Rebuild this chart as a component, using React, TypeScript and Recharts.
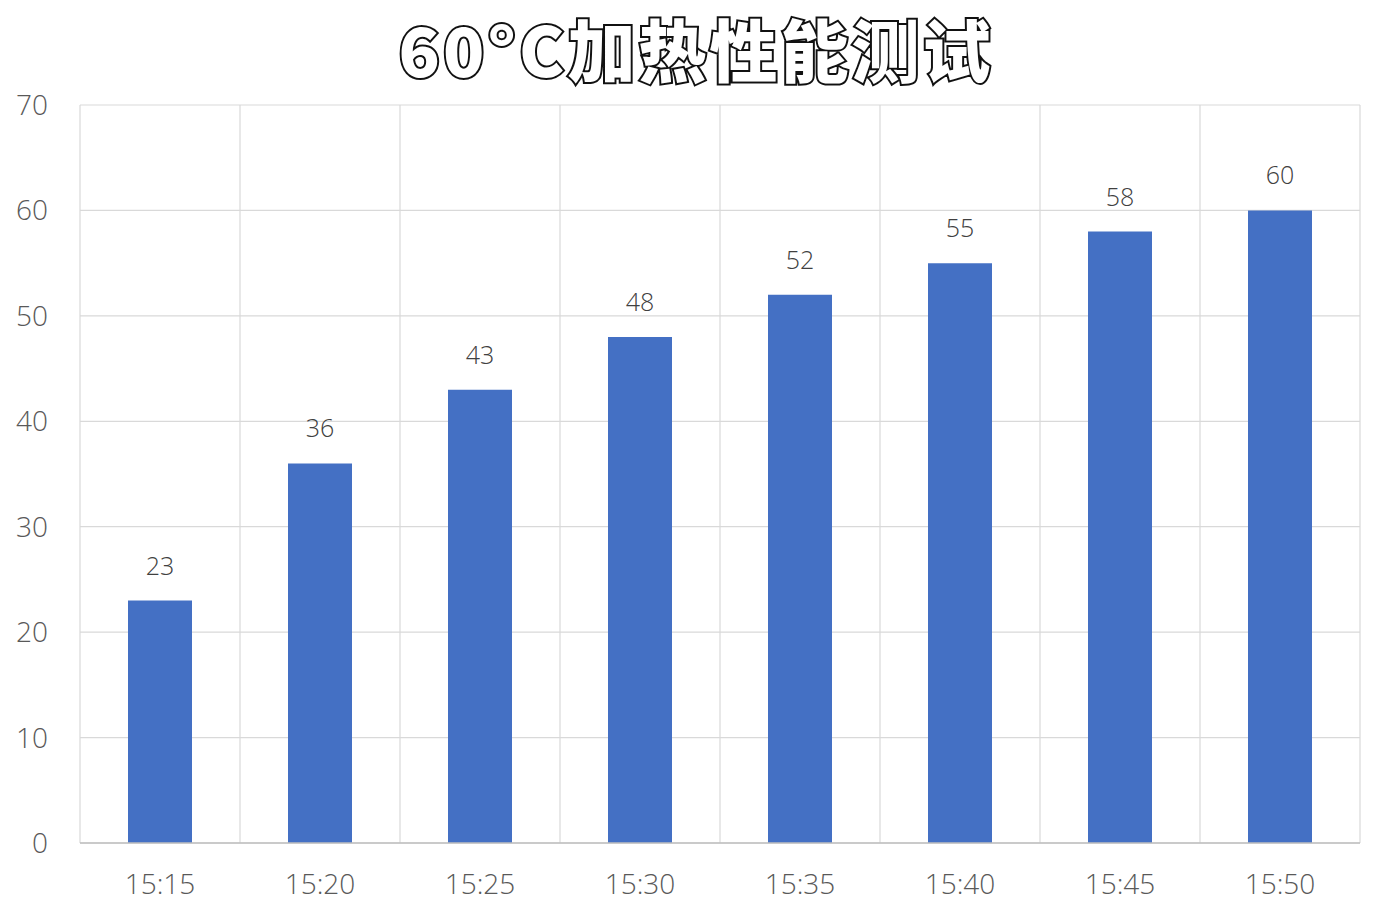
import { Bar, BarChart, CartesianGrid, LabelList, XAxis, YAxis } from "recharts";

const times = ["15:15", "15:20", "15:25", "15:30", "15:35", "15:40", "15:45", "15:50"];
const temps = [23, 36, 43, 48, 52, 55, 58, 60];
const yTicks = [0, 10, 20, 30, 40, 50, 60, 70];

const data = times.map((t, i) => ({ time: t, temp: temps[i] }));

const font = "'Open Sans', 'Noto Sans', sans-serif";

export default function App() {
    return (
        <div style={{ position: 'absolute', left: 0, top: 0, width: 1392, height: 920, background: '#fff' }}>
            <div style={{
                position: 'absolute', left: 0, top: -4, width: 1392, height: 104, textAlign: 'center',
                fontFamily: "'Noto Sans CJK SC', sans-serif", fontWeight: 900, fontSize: 68, letterSpacing: 3,
                color: '#fff', WebkitTextStroke: '4px #111', paintOrder: 'stroke fill', lineHeight: '104px',
                whiteSpace: 'nowrap'
            }}>60°C加热性能测试</div>
            <BarChart width={1392} height={920} data={data} margin={{ top: 105, right: 32, bottom: 47, left: 0 }}>
                <CartesianGrid stroke="#d9d9d9" strokeWidth={1.2}
                    verticalCoordinatesGenerator={({ offset }: any) => times.map((_, i) => offset.left + (i + 1) * offset.width / times.length).concat([offset.left])} />
                <XAxis dataKey="time" tickLine={false} axisLine={{ stroke: '#bfbfbf', strokeWidth: 1.5 }} tickMargin={25}
                    tick={{ fontSize: 28, fill: '#595959', fontFamily: font, fontWeight: 300 }} />
                <YAxis width={80} domain={[0, 70]} ticks={yTicks} tickLine={false} axisLine={false} tickSize={0} tickMargin={32}
                    tick={{ fontSize: 28, fill: '#595959', fontFamily: font, fontWeight: 300 }} />
                <Bar dataKey="temp" fill="#4470C4" barSize={64} isAnimationActive={false}>
                    <LabelList dataKey="temp" position="top" offset={26}
                        style={{ fontSize: 25, fill: '#404040', fontFamily: font, fontWeight: 300 }} />
                </Bar>
            </BarChart>
        </div>
    );
}
